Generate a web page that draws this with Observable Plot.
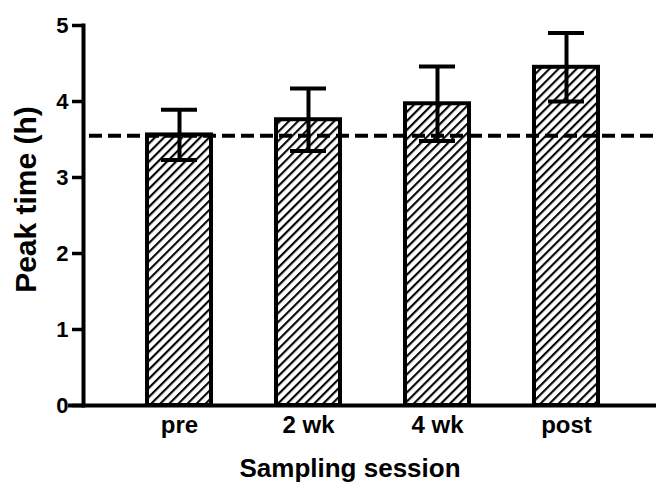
<!DOCTYPE html>
<html>
<head>
<meta charset="utf-8">
<script src="https://cdn.jsdelivr.net/npm/d3@7"></script>
<script src="https://cdn.jsdelivr.net/npm/@observablehq/plot@0.6"></script>
<style>
  html, body { margin: 0; padding: 0; background: #fff; }
</style>
</head>
<body>
<div id="chart"></div>
<script>
const sessions = ["pre", "2 wk", "4 wk", "post"];
const meanPeak = [3.56, 3.76, 3.97, 4.45];
const errPeak = [0.33, 0.41, 0.49, 0.45];
const baseline = 3.55;
const yTicks = [0, 1, 2, 3, 4, 5];
const xTitle = "Sampling session";
const yTitle = "Peak time (h)";

const data = sessions.map((s, i) => ({session: s, value: meanPeak[i], lo: meanPeak[i] - errPeak[i], hi: meanPeak[i] + errPeak[i]}));

const hatchDefs = () => {
  const defs = d3.create("svg:defs");
  const p = defs.append("pattern")
    .attr("id", "hatch")
    .attr("patternUnits", "userSpaceOnUse")
    .attr("width", 6.4).attr("height", 6.4)
    .attr("patternTransform", "rotate(45)");
  p.append("rect").attr("width", 6.4).attr("height", 6.4).attr("fill", "white");
  p.append("line").attr("x1", 2).attr("x2", 2).attr("y1", 0).attr("y2", 6.4)
    .attr("stroke", "black").attr("stroke-width", 2.1);
  return defs.node();
};

const chart = Plot.plot({
  width: 656,
  height: 485,
  marginTop: 25,
  marginBottom: 80,
  marginLeft: 83,
  marginRight: 0,
  style: {fontFamily: "'Liberation Sans', Arial, sans-serif", fontWeight: "bold", color: "black", background: "white"},
  x: {domain: sessions, paddingInner: 0.507, paddingOuter: 0.4625, align: 0.52},
  y: {domain: [0, 5]},
  marks: [
    hatchDefs,
    Plot.barY(data, {x: "session", y: "value", fill: "url(#hatch)", stroke: "black", strokeWidth: 4}),
    Plot.ruleY([baseline], {stroke: "black", strokeWidth: 4, strokeDasharray: "13,6", insetLeft: 6}),
    Plot.ruleX(data, {x: "session", y1: "lo", y2: "hi", stroke: "black", strokeWidth: 4}),
    Plot.tickY(data, {x: "session", y: "hi", stroke: "black", strokeWidth: 4, insetLeft: 14, insetRight: 14}),
    Plot.tickY(data, {x: "session", y: "lo", stroke: "black", strokeWidth: 4, insetLeft: 14, insetRight: 14}),
    Plot.frame({anchor: "left", stroke: "black", strokeWidth: 4}),
    Plot.ruleY([0], {stroke: "black", strokeWidth: 4, insetLeft: -15}),
    Plot.axisY({ticks: yTicks, tickSize: 11, strokeWidth: 3.5, tickFormat: () => "", label: null}),
    Plot.axisY({ticks: yTicks, tickFormat: d3.format("d"), tickSize: 0, tickPadding: 15, fontSize: 22, label: null}),
    Plot.axisX({tickSize: 0, tickPadding: 10, fontSize: 24, label: null}),
    Plot.text([xTitle], {text: d => d, frameAnchor: "bottom", dx: -20, dy: 63, fontSize: 26, fontWeight: "bold", lineAnchor: "middle", fill: "black"}),
    Plot.text([yTitle], {text: d => d, frameAnchor: "left", textAnchor: "middle", rotate: -90, dx: -57, dy: -16, fontSize: 30, fontWeight: "bold", lineAnchor: "middle", fill: "black"})
  ]
});
document.getElementById("chart").appendChild(chart);
</script>
</body>
</html>
